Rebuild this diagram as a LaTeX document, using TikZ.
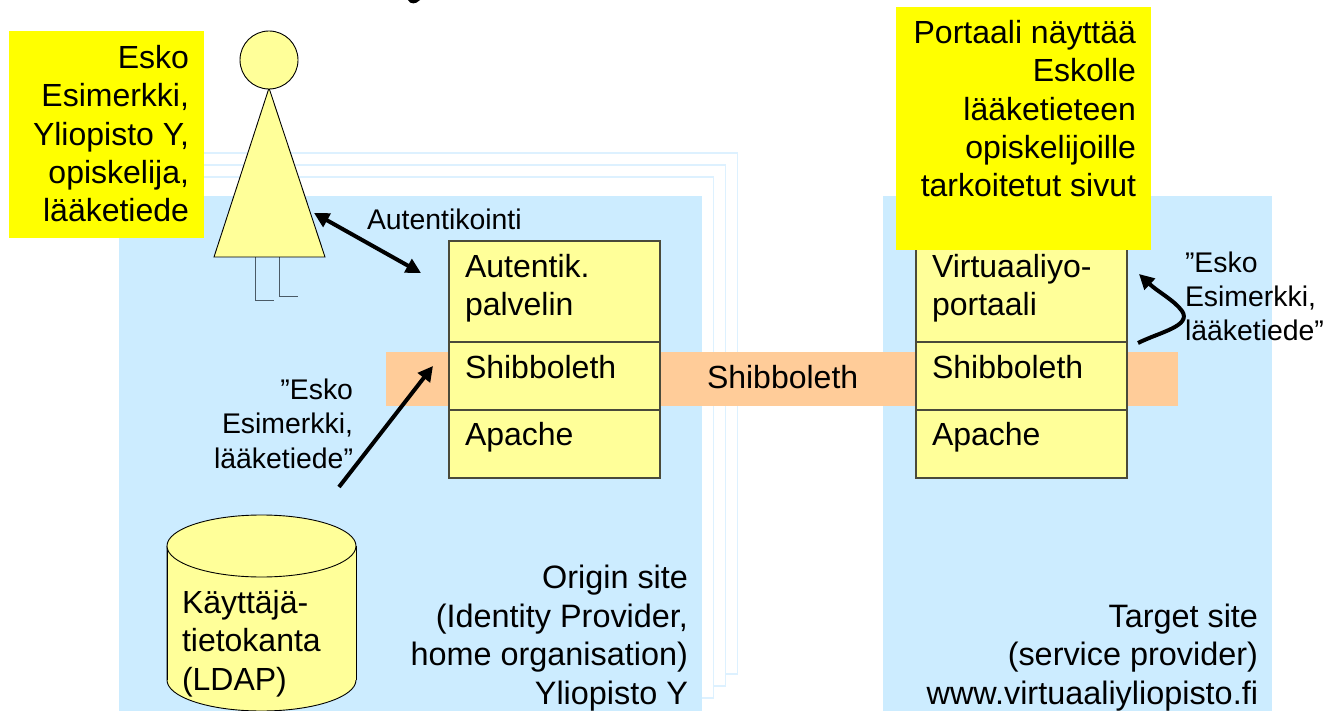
\documentclass[tikz,border=0pt]{standalone}
\usepackage{fontspec}
\setmainfont{Liberation Sans}
\usetikzlibrary{arrows.meta}
\definecolor{siteblue}{HTML}{CCECFF}
\definecolor{frameblue}{HTML}{DDF1FF}
\definecolor{peach}{HTML}{FFCC99}
\definecolor{paleyellow}{HTML}{FFFF99}
\definecolor{noteyellow}{HTML}{FFFF00}
\definecolor{boxline}{HTML}{4A4A3A}
\definecolor{legline}{HTML}{4A5A66}
\tikzset{
  x=1pt,y=-1pt,
  every node/.style={inner sep=0pt,outer sep=0pt},
  big/.style={font=\fontsize{32.4}{38.4}\selectfont,text=black},
  mid/.style={font=\fontsize{32}{38.4}\selectfont,text=black},
  small/.style={font=\fontsize{28.4}{34.3}\selectfont,text=black},
  rtext/.style={align=right,anchor=base east},
  ltext/.style={align=left,anchor=base west},
  sitebox/.style={fill=siteblue},
  note/.style={fill=noteyellow},
  stackframe/.style={draw=frameblue,line width=1.2pt,fill=white},
  layer/.style={draw=boxline,line width=1.2pt,fill=paleyellow},
  figure/.style={draw=black,line width=0.9pt,fill=paleyellow},
  conn/.style={line width=4pt,black},
  tip/.style={-{Triangle[length=15pt,width=15pt]}},
  both tips/.style={{Triangle[length=15pt,width=15pt]}-{Triangle[length=15pt,width=15pt]}},
}
\begin{document}
\begin{tikzpicture}
\useasboundingbox (0,0) rectangle (1325,711);
\clip (0,0) rectangle (1325,711);
% title fragment
\fill[black] (408,0) .. controls (410,4.5) and (416,4.5) .. (420,0) -- cycle;
% stacked origin sites
\draw[stackframe] (155,153) rectangle (737.5,674);
\draw[stackframe] (143,165) rectangle (725.5,686);
\draw[stackframe] (131,177) rectangle (713.5,698);
\fill[sitebox] (119,196) rectangle (702,711);
\fill[sitebox] (883,196) rectangle (1272,711);
\fill[peach] (386,352) rectangle (1178,406);
% left stack
\draw[layer] (449,241) rectangle (660,478);
\draw[layer] (449,342) -- (660,342);
\draw[layer] (449,410) -- (660,410);
% right stack
\draw[layer] (916,241) rectangle (1127,478);
\draw[layer] (916,342) -- (1127,342);
\draw[layer] (916,410) -- (1127,410);
% notes
\fill[note] (9,31) rectangle (204,238);
\fill[note] (896,7) rectangle (1151,250);
% person
\draw[legline,line width=1pt] (255,257) -- (255,301) -- (274,301);
\draw[legline,line width=1pt] (279.5,257) -- (279.5,297) -- (298,297);
\draw[figure] (269,88) -- (325,257) -- (214,257) -- cycle;
\node[figure,circle,minimum size=58pt] (head) at (269,60) {};
% database
\draw[figure] (167,546) -- (167,680) .. controls (167,697) and (209,711) .. (261.5,711)
  .. controls (314,711) and (356,697) .. (356,680) -- (356,546);
\fill[paleyellow] (167,546) rectangle (356,680);
\draw[figure] (167,546) -- (167,680) (356,680) -- (356,546);
\draw[figure] (261.5,546) ellipse [x radius=94.5,y radius=31];
% connectors
\coordinate (authA) at (314,213);
\coordinate (authB) at (421,273);
\coordinate (attrA) at (339,487);
\coordinate (attrB) at (433,366);
\coordinate (portalA) at (1138,343);
\coordinate (portalB) at (1139,274);
\draw[conn,both tips] (authA) -- (authB);
\draw[conn,tip] (attrA) -- (attrB);
\draw[conn,tip] (portalA) .. controls (1160,332) and (1192,326) .. (1182,311)
  .. controls (1174,300) and (1158,292) .. (portalB);
% texts
\node[mid,rtext] (esko) at (189,222) {Esko\\Esimerkki,\\Yliopisto Y,\\opiskelija,\\lääketiede};
\node[mid,rtext] (portal) at (1136,197) {Portaali näyttää\\Eskolle\\lääketieteen\\opiskelijoille\\tarkoitetut sivut};
\node[small,anchor=base west] (auth) at (367,230) {Autentikointi};
\node[mid,ltext] (l1) at (465,316) {Autentik.\\palvelin};
\node[mid,ltext] (l2) at (465,378) {Shibboleth};
\node[mid,ltext] (l3) at (465,445) {Apache};
\node[mid,ltext] (r1) at (932,316) {Virtuaaliyo-\\portaali};
\node[mid,ltext] (r2) at (932,378) {Shibboleth};
\node[mid,ltext] (r3) at (932,445) {Apache};
\node[mid,ltext] (shib) at (707,388) {Shibboleth};
\node[small,rtext] (attrL) at (353,468) {”Esko\\Esimerkki,\\lääketiede”};
\node[small,ltext] (attrR) at (1185,341) {”Esko\\Esimerkki,\\lääketiede”};
\node[mid,ltext] (db) at (182,690) {Käyttäjä-\\tietokanta\\(LDAP)};
\node[big,rtext] (origin) at (688,704) {Origin site\\(Identity Provider,\\home organisation)\\Yliopisto Y};
\node[big,rtext] (target) at (1258,704) {Target site\\(service provider)\\www.virtuaaliyliopisto.fi};
\end{tikzpicture}
\end{document}
